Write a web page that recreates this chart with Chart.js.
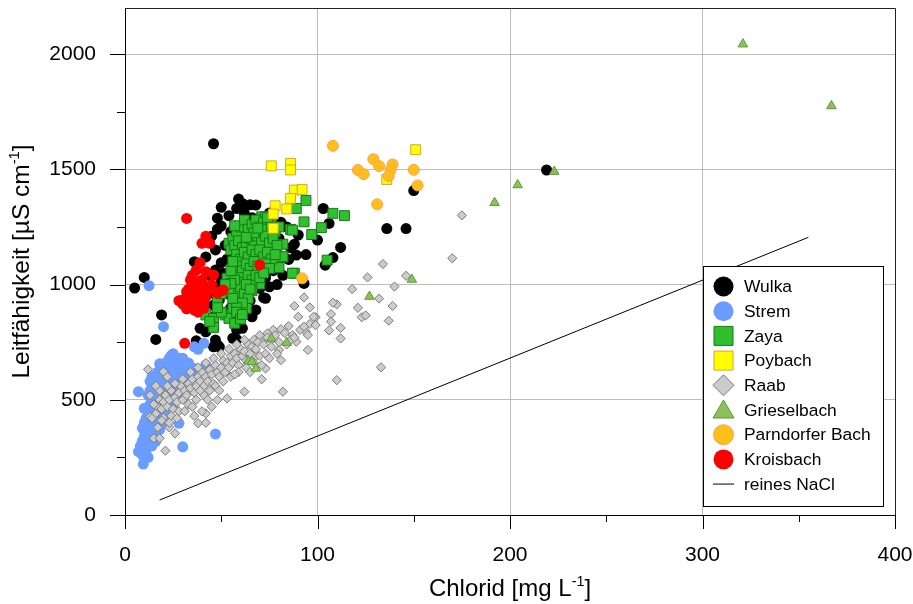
<!DOCTYPE html>
<html>
<head>
<meta charset="utf-8">
<script src="https://cdn.jsdelivr.net/npm/chart.js@4.4.1/dist/chart.umd.min.js"></script>
<style>
  html, body { margin: 0; padding: 0; background: #fff; }
</style>
</head>
<body>
<canvas id="chart" width="913" height="604"></canvas>
<script>
// ---- axis ticks ----
const xTicks = [0, 100, 200, 300, 400];
const xMinor = [50, 150, 250, 350];
const yTicks = [0, 500, 1000, 1500, 2000];
const yMinor = [250, 750, 1250, 1750];

// ---- series: [Chlorid mg/L, Leitfähigkeit µS/cm] ----
const wulka = [
  [5,985],[10,1031],[19,868],[46,1611],[219,1497],[150,1408],[136,1243],[146,1243],
  [103,1330],[106,1265],[100,1193],[112,1161],[94,1130],[108,1117],[104,1084],[93,1005],
  [88,1175],[85,1109],[81,1270],[68,1345],[72,943],[68,890],[75,990],
  [59,1371],[61,1352],[65,1346],[50,1335],[48,1288],[54,1299],[50,1254],[57,1254],
  [89,1128],[36,1099],[50,1095],[47,1063],[51,1049],[50,1020],[47,990],[44,962],[49,933],
  [46,911],[70,983],[73,940],[59,860],[44,860],[39,810],[42,795],[46,832],[46,730],[48,738],
  [16,762],[56,767],[58,803],[37,756],[47,759],[58,762],[61,810],[60,860],[32,632],[49,730],
  [55,1230],[58,1200],[62,1180],[52,1170],[56,1140],[60,1120],[63,1095],[66,1070],[53,1110],
  [57,1080],[61,1050],[64,1020],[67,1000],[55,1010],[58,980],[62,960],[65,930],[53,960],
  [57,940],[60,910],[63,880],[66,860],[52,880],[55,900],[76,1120],[78,1150],[80,1200],
  [74,1180],[77,1060],[73,1030],[79,1000],[82,1040],[84,1250],[86,1160],[90,1215],[70,1240],
  [72,1280],[66,1290],[62,1310],[58,1330],[75,1310],[42,1120],[40,1000],[44,1040],[47,1150],
  [45,1210],[48,1240]
];
const strem = [
  [12.5,995],[20,817],[24,692],[18,656],[14,600],[42,651],[36,636],[41,745],[36,730],[38,719],
  [47,351],[30,296],[28,398],[7,535],[9,376],[7,275],[9,260],[9.5,221],[10,463],
  [8,300],[9,320],[10,340],[11,300],[12,360],[10,400],[11,420],[12,450],[13,480],[14,500],
  [12,520],[13,540],[15,560],[16,580],[14,470],[15,440],[16,410],[17,390],[18,420],[19,450],
  [20,470],[21,500],[22,530],[23,560],[24,590],[25,620],[26,640],[27,660],[28,680],[18,510],
  [19,540],[20,560],[21,590],[22,610],[23,630],[17,470],[16,520],[15,500],[13,420],[12,390],
  [11,360],[14,390],[15,360],[16,345],[13,330],[11,280],[12,250],[10,265],[17,620],[19,640],
  [21,660],[23,680],[25,700],[26,580],[27,600],[28,620],[29,640],[30,560],[31,600],[32,640],
  [33,660],[30,680],[24,520],[26,540],[28,560],[22,480],[20,430],[18,370],[16,320],[14,300],
  [20,395],[22,440],[25,470],[27,510],[29,530],[34,600],[35,630],[31,520],[33,560],[19,580],
  [17,545],[15,600],[13,580],[21,620],[24,650]
];
const zaya = [
  [94,1365],[89,1330],[93,1272],[108,1309],[114,1299],[102,1247],[97,1217],[86,1239],
  [105,1106],[88,1049],[82,1175],[82,1119],[80,1074],[70,1002],[66,973],[42,868],[46,853],
  [46,814],[48,933],[52,868],[54,853],[57,832],[56,897],[59,933],[58,962],[63,897],[53,1027],
  [87,1236],[87,1049],[82,1121],[54,1179],[55,1150],[71,1294],[73,1294],[62,1262],[65,1222],
  [56,1200],[58,1230],[60,1250],[62,1280],[64,1240],[66,1260],[68,1280],[70,1250],[72,1270],
  [74,1240],[76,1260],[78,1230],[80,1250],[57,1170],[59,1190],[61,1160],[63,1180],[65,1200],
  [67,1170],[69,1210],[71,1190],[73,1210],[75,1180],[77,1200],[79,1170],[58,1130],[60,1110],
  [62,1140],[64,1120],[66,1150],[68,1130],[70,1150],[72,1120],[74,1140],[76,1110],[78,1130],
  [59,1080],[61,1060],[63,1090],[65,1070],[67,1100],[69,1080],[71,1060],[73,1090],[75,1070],
  [60,1030],[62,1010],[64,1040],[66,1020],[68,1040],[70,1030],[72,1050],[60,990],[62,960],
  [64,940],[61,920],[58,900],[63,1000],[65,980],[57,1020],[55,1060],[56,1100],[67,1225],
  [69,1245],[63,1205],[74,1290],[58,880],[60,850],[61,870],[50,880],[44,840],[54,970],
  [56,940],[55,1005],[52,1000],[50,960],[48,900],[57,1255]
];
const poybach = [
  [76,1515],[86,1526],[86,1497],[88,1410],[92,1413],[86,1374],[78,1342],[84,1328],
  [77,1306],[77,1244],[151,1585],[136,1456]
];
const raab = [
  [175,1300],[170,1114],[134,1089],[126,1031],[146,1038],[140,991],[118,980],[132,939],
  [121,899],[139,907],[123,858],[125,866],[137,843],[110,914],[108,921],[96,901],[93,944],
  [88,907],[90,860],[99,858],[107,872],[107,839],[106,801],[112,812],[112,766],[96,829],
  [94,795],[95,781],[95,716],[133,641],[110,585],[82,535],[81,672],[71,752],[71,589],[78,795],
  [81,806],[87,781],[89,752],[68,690],[73,636],[77,803],[74,788],[80,716],[76,759],[91,803],
  [98,860],[99,824],[93,817],
  [12,632],[20,622],[13,426],[20,524],[15,333],[18,333],[21,279],[17,380],[26,354],[20,422],
  [23,380],[38,398],[42,400],[42,441],[48,499],[53,506],[62,535],
  [16,440],[17,470],[18,500],[19,460],[20,490],[21,520],[22,470],[23,500],[24,540],[25,460],
  [26,510],[27,490],[28,530],[29,560],[30,500],[31,540],[32,520],[33,570],[34,550],[35,590],
  [36,530],[37,560],[38,600],[39,580],[40,620],[41,560],[42,600],[43,580],[44,630],[45,610],
  [46,570],[47,650],[48,620],[49,600],[50,640],[51,670],[52,620],[53,660],[54,640],[55,690],
  [56,660],[57,700],[58,680],[59,650],[60,720],[61,690],[62,710],[63,670],[64,740],[65,700],
  [66,730],[67,760],[68,720],[69,750],[70,780],[72,740],[74,770],[76,730],[78,780],[80,750],
  [83,790],[85,820],[86,760],[62,760],[58,740],[54,720],[50,700],[46,680],[42,660],[38,640],
  [34,620],[30,590],[26,570],[22,560],[18,540],[15,480],[14,420],[19,410],[24,430],[28,450],
  [33,480],[37,500],[41,520],[44,540],[47,560],[51,580],[55,600],[59,620],[63,640],[67,660],
  [70,690],[73,700],[35,470],[31,450],[27,420],[23,400],[39,540],[43,500],[49,540],[57,610],
  [65,620],[71,650],[75,680],[79,700],[84,740],[88,770],[40,450],[45,470],[36,430],[22,600],
  [16,560],[13,520]
];
const grieselbach = [
  [64,668],[66,665],[68,636],[76,766],[84,748],[127,948],[149,1022],[192,1355],[204,1432],
  [223,1490],[321,2043],[367,1775]
];
const parndorf = [
  [108,1602],[129,1544],[132,1514],[139,1521],[121,1497],[124,1479],[138,1497],[137,1471],
  [150,1498],[152,1430],[131,1348],[92,1027]
];
const kroisbach = [
  [32,1287],[42,1210],[40,1179],[44,1179],[70,1085],[39,1095],[37,1063],[42,1056],[46,1041],
  [34,1020],[37,1012],[39,988],[32,969],[35,955],[38,962],[42,947],[30,933],[34,933],[36,925],
  [41,918],[31,911],[35,904],[38,904],[41,897],[36,889],[49,969],[51,976],[48,962],[31,745],
  [33,940],[36,960],[40,930],[33,980],[37,990],[30,915],[39,945],[43,975],[35,1040],[45,1000],
  [40,1020],[32,895],[38,880],[28,930],[41,990]
];
// reines NaCl (Chlorid, Leitfähigkeit)
const naclCl = [18, 355];
const naclLf = [65, 1205];

const FONT = '"Liberation Sans", Arial, Helvetica, sans-serif';
Chart.defaults.font.family = FONT;
Chart.defaults.color = '#000';

const toXY = arr => arr.map(p => ({ x: p[0], y: p[1] }));

// name, data, style – order: larger = drawn further below
const series = [
  { label: 'Wulka', data: wulka, style: 'circle', r: 5.5, fill: '#000000', stroke: '#000000', bw: 0 },
  { label: 'Strem', data: strem, style: 'circle', r: 5.5, fill: '#6b9cff', stroke: '#6b9cff', bw: 0 },
  { label: 'Zaya', data: zaya, style: 'rect', r: 7, fill: '#2fbf2f', stroke: '#167a16', bw: 1 },
  { label: 'Poybach', data: poybach, style: 'rect', r: 7, fill: '#ffff00', stroke: '#d9a42a', bw: 1 },
  { label: 'Raab', data: raab, style: 'rectRot', r: 4.6, fill: '#cbcbcb', stroke: '#7a7a7a', bw: 1 },
  { label: 'Grieselbach', data: grieselbach, style: 'triangle', r: 5.5, fill: '#8cc15a', stroke: '#5c9a38', bw: 1 },
  { label: 'Parndorfer Bach', data: parndorf, style: 'circle', r: 5.5, fill: '#ffbf1a', stroke: '#ff9f55', bw: 1 },
  { label: 'Kroisbach', data: kroisbach, style: 'circle', r: 5.5, fill: '#ff0000', stroke: '#ff0000', bw: 0 }
];

const datasets = series.map((s, i) => ({
  label: s.label,
  data: toXY(s.data),
  pointStyle: s.style,
  pointRadius: s.r,
  pointBackgroundColor: s.fill,
  pointBorderColor: s.stroke,
  pointBorderWidth: s.bw,
  showLine: false,
  order: series.length - i
}));

datasets.push({
  label: 'reines NaCl',
  data: naclCl.map((x, i) => ({ x: x, y: naclLf[i] })),
  showLine: true,
  borderColor: '#000',
  borderWidth: 1,
  pointRadius: 0,
  order: 20
});

function drawRich(ctx, parts, size, cx, baseline) {
  let total = 0;
  parts.forEach(p => {
    ctx.font = (p.sup ? size * 0.6 : size) + 'px ' + FONT;
    p.w = ctx.measureText(p.t).width;
    total += p.w;
  });
  let x = cx - total / 2;
  ctx.textAlign = 'left';
  ctx.textBaseline = 'alphabetic';
  parts.forEach(p => {
    ctx.font = (p.sup ? size * 0.6 : size) + 'px ' + FONT;
    ctx.fillText(p.t, x, baseline - (p.sup ? size * 0.4 : 0));
    x += p.w;
  });
}

function legendMarker(ctx, s, x, y) {
  ctx.fillStyle = s.fill;
  ctx.strokeStyle = s.stroke;
  ctx.lineWidth = 1;
  ctx.beginPath();
  if (s.style === 'circle') {
    ctx.arc(x, y, 10, 0, Math.PI * 2);
  } else if (s.style === 'rect') {
    ctx.rect(x - 9.5, y - 9.5, 19, 19);
  } else if (s.style === 'rectRot') {
    ctx.moveTo(x, y - 10.5); ctx.lineTo(x + 10.5, y); ctx.lineTo(x, y + 10.5); ctx.lineTo(x - 10.5, y);
    ctx.closePath();
  } else if (s.style === 'triangle') {
    ctx.moveTo(x, y - 10); ctx.lineTo(x + 10.5, y + 8); ctx.lineTo(x - 10.5, y + 8);
    ctx.closePath();
  }
  ctx.fill();
  if (s.bw > 0) ctx.stroke();
}

const framePlugin = {
  id: 'frame',
  afterDraw(chart) {
    const ctx = chart.ctx;
    const a = chart.chartArea;
    const xs = chart.scales.x, ys = chart.scales.y;
    ctx.save();

    // top / right spine
    ctx.strokeStyle = '#222';
    ctx.lineWidth = 1;
    ctx.beginPath();
    ctx.moveTo(a.left, a.top + 0.5); ctx.lineTo(a.right + 0.5, a.top + 0.5);
    ctx.lineTo(a.right + 0.5, a.bottom);
    ctx.stroke();

    // tick marks (outward)
    ctx.strokeStyle = '#000';
    ctx.beginPath();
    xTicks.forEach(v => { const p = Math.round(xs.getPixelForValue(v)) + 0.5; ctx.moveTo(p, a.bottom); ctx.lineTo(p, a.bottom + 14); });
    xMinor.forEach(v => { const p = Math.round(xs.getPixelForValue(v)) + 0.5; ctx.moveTo(p, a.bottom); ctx.lineTo(p, a.bottom + 7); });
    yTicks.forEach(v => { const p = Math.round(ys.getPixelForValue(v)) + 0.5; ctx.moveTo(a.left, p); ctx.lineTo(a.left - 15, p); });
    yMinor.forEach(v => { const p = Math.round(ys.getPixelForValue(v)) + 0.5; ctx.moveTo(a.left, p); ctx.lineTo(a.left - 8, p); });
    ctx.stroke();

    // axis titles
    ctx.fillStyle = '#000';
    drawRich(ctx, [{ t: 'Chlorid [mg L' }, { t: '-1', sup: true }, { t: ']' }], 24, (a.left + a.right) / 2, 596);
    ctx.save();
    ctx.translate(29, (a.top + a.bottom) / 2);
    ctx.rotate(-Math.PI / 2);
    drawRich(ctx, [{ t: 'Leitfähigkeit [µS cm' }, { t: '-1', sup: true }, { t: ']' }], 24.5, 0, 0);
    ctx.restore();

    // legend box
    const bx = a.right - 192, by = a.bottom - 249, bw = 180, bh = 240;
    ctx.fillStyle = '#fff';
    ctx.fillRect(bx, by, bw, bh);
    ctx.strokeStyle = '#000';
    ctx.strokeRect(bx + 0.5, by + 0.5, bw, bh);
    const rowH = 24.7;
    series.forEach((s, i) => {
      const cy = by + 20.5 + i * rowH;
      legendMarker(ctx, s, bx + 20.5, cy);
      ctx.fillStyle = '#000';
      ctx.font = '17.4px ' + FONT;
      ctx.textAlign = 'left';
      ctx.textBaseline = 'middle';
      ctx.fillText(s.label, bx + 41, cy + 1);
    });
    const ly = by + 20.5 + 8 * rowH;
    ctx.strokeStyle = '#555';
    ctx.lineWidth = 1.5;
    ctx.beginPath();
    ctx.moveTo(bx + 10, ly); ctx.lineTo(bx + 31, ly);
    ctx.stroke();
    ctx.fillStyle = '#000';
    ctx.fillText('reines NaCl', bx + 41, ly + 1);

    ctx.restore();
  }
};

const gridColor = (ctx) => (ctx.tick && ctx.tick.value > 0 ? '#bdbdbd' : 'rgba(0,0,0,0)');

new Chart(document.getElementById('chart'), {
  type: 'scatter',
  data: { datasets: datasets },
  options: {
    responsive: false,
    animation: false,
    layout: { padding: { top: 8, right: 18, left: 0, bottom: 0 } },
    plugins: {
      legend: { display: false },
      tooltip: { enabled: false }
    },
    scales: {
      x: {
        type: 'linear',
        min: 0,
        max: 400,
        afterBuildTicks: (scale) => { scale.ticks = xTicks.map(v => ({ value: v })); },
        afterFit: (scale) => { scale.height = 89; },
        ticks: { padding: 0, font: { size: 21 }, color: '#000', maxRotation: 0, callback: v => String(v) },
        grid: { color: gridColor, lineWidth: 1, drawTicks: true, tickLength: 28, tickColor: 'rgba(0,0,0,0)' },
        border: { display: true, color: '#000', width: 1 }
      },
      y: {
        type: 'linear',
        min: 0,
        max: 2200,
        afterBuildTicks: (scale) => { scale.ticks = yTicks.map(v => ({ value: v })); },
        afterFit: (scale) => { scale.width = 125; },
        ticks: { padding: 0, font: { size: 21, lineHeight: 0.7 }, color: '#000', callback: v => String(v) },
        grid: { color: gridColor, lineWidth: 1, drawTicks: true, tickLength: 29, tickColor: 'rgba(0,0,0,0)' },
        border: { display: true, color: '#000', width: 1 }
      }
    }
  },
  plugins: [framePlugin]
});
</script>
</body>
</html>
